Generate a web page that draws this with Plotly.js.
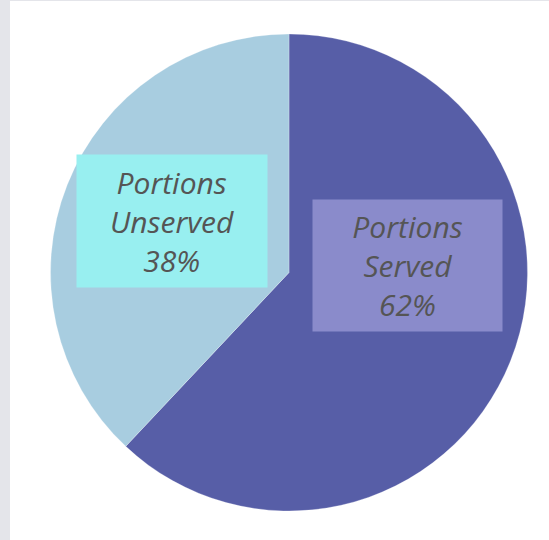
<!DOCTYPE html>
<html>
<head>
<meta charset="utf-8">
<script src="https://cdn.plot.ly/plotly-3.0.1.min.js"></script>
<style>
  html, body { margin: 0; padding: 0; background: #e4e5ea; width: 549px; height: 540px; overflow: hidden; }
  #chart { position: absolute; left: 10px; top: 1px; width: 539px; height: 539px; background: #ffffff; }
</style>
</head>
<body>
<div id="chart"></div>
<script>
const labels = ["Portions Served", "Portions Unserved"];
const values = [62, 38];
const sliceColors = ["#575ea7", "#a8cde0"];
const boxColors = ["#8a8bcb", "#98eff0"];

const total = values.reduce((a, b) => a + b, 0);
const pct = values.map(v => Math.round(v / total * 100));

// label box placement (styling only)
const boxPos = [
  { x: 0.748, y: 0.5147, w: 189, h: 131 },
  { x: 0.2552, y: 0.608, w: 190, h: 132 }
];

const annotations = labels.map((lab, i) => ({
  xref: "paper", yref: "paper",
  x: boxPos[i].x, y: boxPos[i].y,
  xanchor: "center", yanchor: "middle",
  showarrow: false,
  text: lab.split(" ").join("<br>") + "<br>" + pct[i] + "%",
  font: { family: "Open Sans", size: 30, color: "#555555", style: "italic" },
  bgcolor: boxColors[i],
  borderpad: 0,
  width: boxPos[i].w,
  height: boxPos[i].h,
  align: "center",
  valign: "middle"
}));

const trace = {
  type: "pie",
  labels: labels,
  values: values,
  sort: false,
  direction: "clockwise",
  rotation: 0,
  textinfo: "none",
  hoverinfo: "none",
  marker: { colors: sliceColors, line: { color: "rgba(255,255,255,0.5)", width: 0.5 } },
  showlegend: false
};

const layout = {
  width: 539, height: 539,
  margin: { l: 40, r: 21, t: 33, b: 29 },
  paper_bgcolor: "#ffffff",
  plot_bgcolor: "#ffffff",
  showlegend: false,
  annotations: annotations
};

Plotly.newPlot("chart", [trace], layout, { displayModeBar: false, staticPlot: true });
</script>
</body>
</html>
